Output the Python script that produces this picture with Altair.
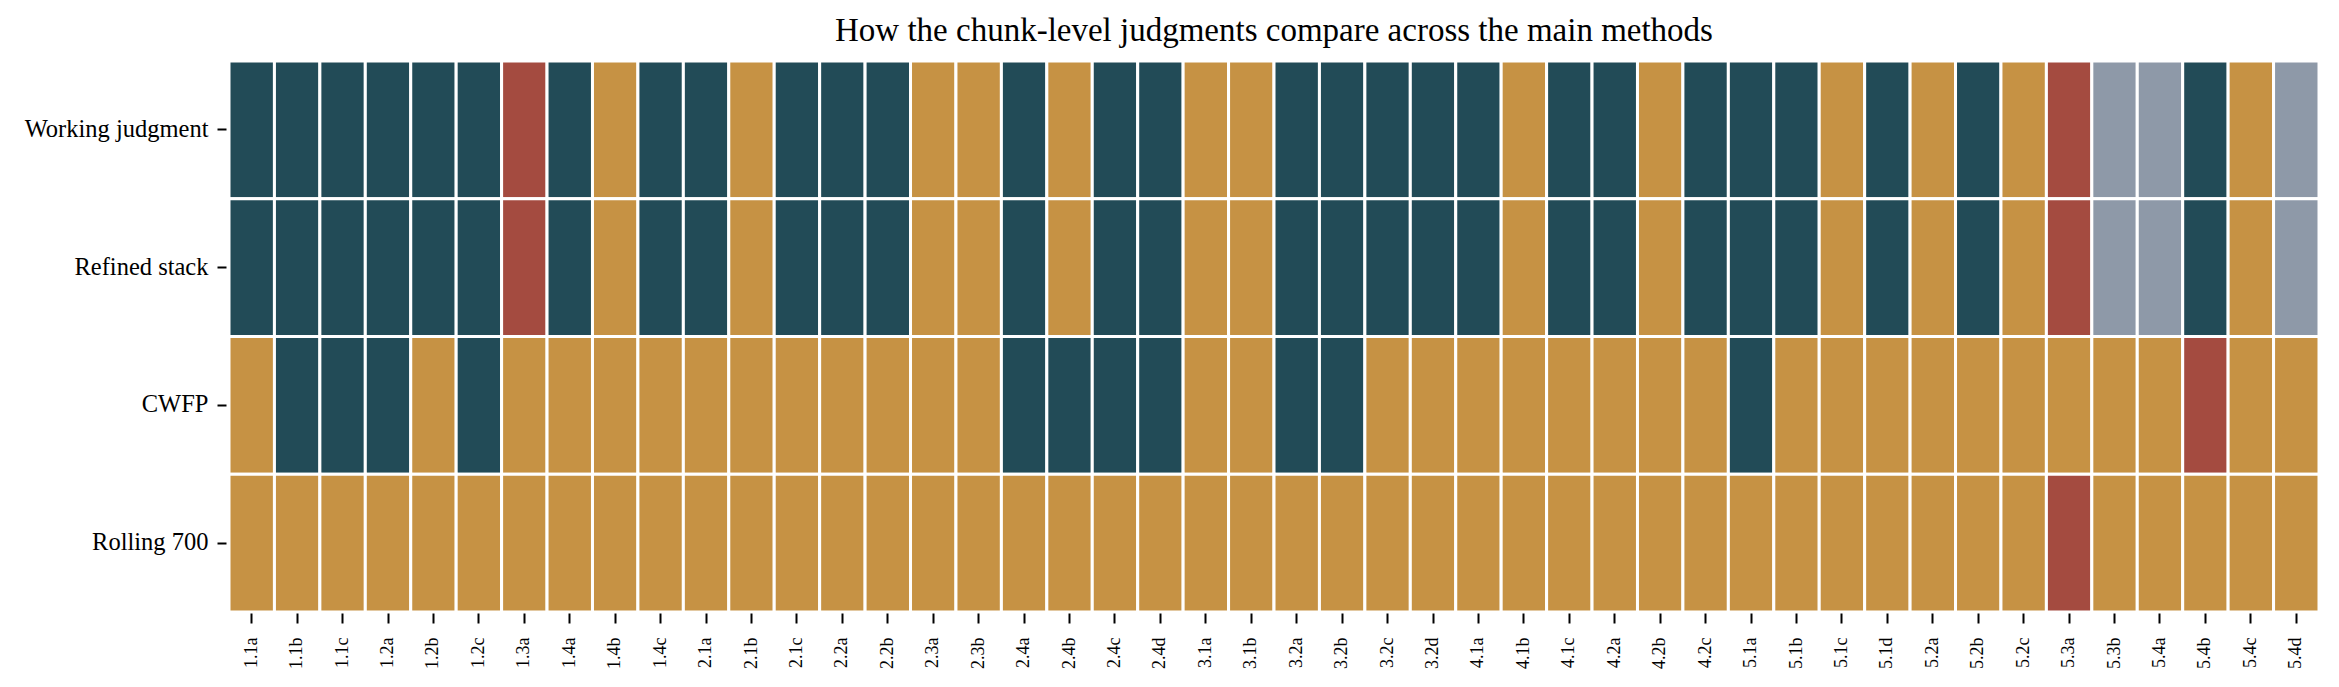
import altair as alt
import pandas as pd

# Chunk identifiers along the x axis
chunks = [
    "1.1a", "1.1b", "1.1c", "1.2a", "1.2b", "1.2c", "1.3a", "1.4a", "1.4b", "1.4c",
    "2.1a", "2.1b", "2.1c", "2.2a", "2.2b", "2.3a", "2.3b", "2.4a", "2.4b", "2.4c", "2.4d",
    "3.1a", "3.1b", "3.2a", "3.2b", "3.2c", "3.2d",
    "4.1a", "4.1b", "4.1c", "4.2a", "4.2b", "4.2c",
    "5.1a", "5.1b", "5.1c", "5.1d", "5.2a", "5.2b", "5.2c", "5.3a", "5.3b", "5.4a", "5.4b", "5.4c", "5.4d",
]

methods = ["Working judgment", "Refined stack", "CWFP", "Rolling 700"]

# Judgment codes per chunk: S = supported, P = partial, C = contradicted, N = not assessed
working_judgment = list("SSSSSSCSPSSPSSSPPSPSSPPSSSSSPSSPSSSPSPSPCNNSPN")
refined_stack    = list("SSSSSSCSPSSPSSSPPSPSSPPSSSSSPSSPSSSPSPSPCNNSPN")
cwfp             = list("PSSSPSPPPPPPPPPPPSSSSPPSSPPPPPPPPSPPPPPPPPPCPP")
rolling_700      = list("PPPPPPPPPPPPPPPPPPPPPPPPPPPPPPPPPPPPPPPPCPPPPP")

codes = ["S", "P", "C", "N"]
palette = ["#224B57", "#C69244", "#A44B40", "#8E99A8"]

rows = []
for method, series in zip(methods, [working_judgment, refined_stack, cwfp, rolling_700]):
    for chunk, code in zip(chunks, series):
        rows.append({"method": method, "chunk": chunk, "judgment": code})
df = pd.DataFrame(rows)

FONT = "Liberation Serif"

chart = (
    alt.Chart(df)
    .mark_rect(stroke="white", strokeWidth=3)
    .encode(
        x=alt.X(
            "chunk:N",
            sort=chunks,
            scale=alt.Scale(paddingInner=0, paddingOuter=0),
            axis=alt.Axis(
                title=None,
                labelAngle=270,
                labelFont=FONT,
                labelFontSize=18,
                labelColor="black",
                labelPadding=14,
                labelLimit=0,
                tickSize=10,
                tickWidth=2,
                tickColor="black",
                domain=False,
                offset=1,
            ),
        ),
        y=alt.Y(
            "method:N",
            sort=methods,
            scale=alt.Scale(paddingInner=0, paddingOuter=0),
            axis=alt.Axis(
                title=None,
                labelFont=FONT,
                labelFontSize=24.5,
                labelColor="black",
                labelPadding=9,
                labelLimit=0,
                tickSize=9,
                tickWidth=2,
                tickColor="black",
                domain=False,
                offset=3,
            ),
        ),
        color=alt.Color(
            "judgment:N",
            scale=alt.Scale(domain=codes, range=palette),
            legend=None,
        ),
    )
    .properties(
        width=2090,
        height=551,
        title=alt.TitleParams(
            "How the chunk-level judgments compare across the main methods",
            font=FONT,
            fontSize=33,
            fontWeight="normal",
            color="black",
            anchor="middle",
            offset=12,
        ),
        autosize=alt.AutoSizeParams(type="none"),
        padding={"left": 229, "top": 61, "right": 20, "bottom": 75},
    )
    .configure_view(stroke=None)
    .configure(background="white")
)

chart.save("out.html", embed_options={"renderer": "svg", "actions": False})
